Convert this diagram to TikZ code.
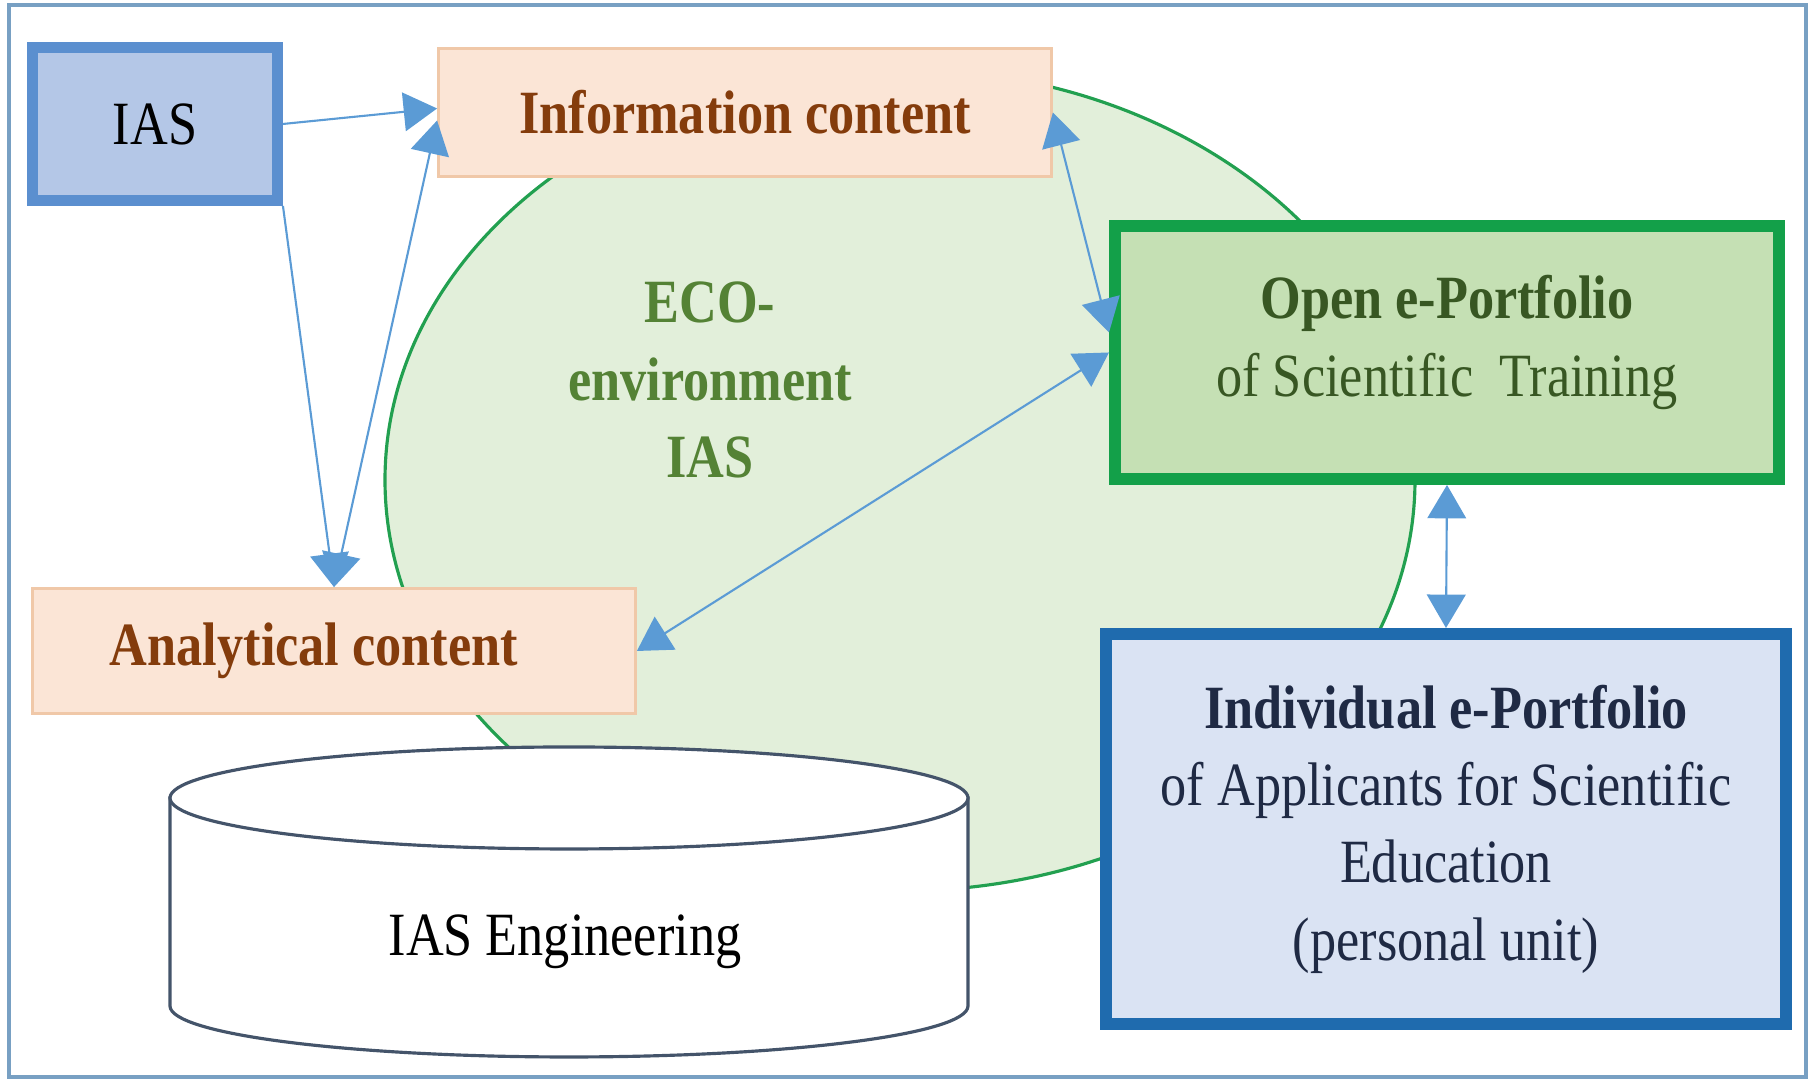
\documentclass[tikz,border=0pt]{standalone}
\usepackage{fontspec}
\setmainfont[FakeStretch=0.85]{Liberation Serif}
\usetikzlibrary{arrows.meta}

\definecolor{framec}{RGB}{120,160,195}
\definecolor{iasfill}{HTML}{B4C7E7}
\definecolor{iasline}{HTML}{5B8FCF}
\definecolor{contfill}{HTML}{FBE5D6}
\definecolor{contline}{HTML}{F0C8A8}
\definecolor{contc}{HTML}{843C0C}
\definecolor{ecofill}{HTML}{E2EFDA}
\definecolor{ecoline}{HTML}{22A050}
\definecolor{ecoc}{HTML}{548235}
\definecolor{openfill}{HTML}{C5E0B4}
\definecolor{openline}{HTML}{13A049}
\definecolor{openc}{HTML}{385723}
\definecolor{indfill}{HTML}{DAE3F3}
\definecolor{indline}{HTML}{1F6BAE}
\definecolor{indc}{HTML}{1F2A44}
\definecolor{cylline}{HTML}{44546A}
\definecolor{arrowc}{HTML}{5B9BD5}

\begin{document}
\begin{tikzpicture}[
  txt/.style={font=\fontsize{17.5}{22}\selectfont, align=center, inner sep=0pt},
  box/.style={txt, rectangle, draw},
  iasbox/.style={box, draw=iasline, fill=iasfill, line width=3.1pt, minimum width=2.45cm, minimum height=1.53cm},
  contbox/.style={box, draw=contline, fill=contfill, line width=0.8pt, text=contc, font=\fontsize{17.5}{22}\selectfont\bfseries},
  openbox/.style={box, draw=openline, fill=openfill, line width=3.4pt, text=openc, minimum width=6.64cm, minimum height=2.53cm},
  indbox/.style={box, draw=indline, fill=indfill, line width=3.4pt, text=indc, minimum width=6.80cm, minimum height=3.90cm},
  arr/.style={draw=arrowc, line width=0.6pt, -{Triangle[length=9.5pt,width=11pt]}},
  darr/.style={arr, {Triangle[length=9.5pt,width=11pt]}-{Triangle[length=9.5pt,width=11pt]}}
]
\useasboundingbox (0,0) rectangle (18.15,10.81);

% --- ECO-environment ---
\filldraw[fill=ecofill, draw=ecoline, line width=0.9pt] (9.00,6.01) ellipse [x radius=5.15cm, y radius=4.11cm];
\node[txt, text=ecoc, font=\fontsize{17.5}{22}\selectfont\bfseries] (eco) at (7.10,7.01) {ECO-\\environment\\IAS};

% --- IAS Engineering store ---
\filldraw[fill=white, draw=cylline, line width=0.9pt] (1.70,2.83) -- (1.70,0.75)
  arc[start angle=180, end angle=360, x radius=3.99cm, y radius=0.51cm] -- (9.68,2.83) -- cycle;
\filldraw[fill=white, draw=cylline, line width=0.9pt] (5.69,2.83) ellipse [x radius=3.99cm, y radius=0.51cm];
\node[txt] (eng) at (5.65,1.39) {IAS Engineering};

% --- Boxes ---
\node[iasbox] (ias) at (1.55,9.57) {IAS};
\node[contbox, minimum width=6.13cm, minimum height=1.28cm] (info) at (7.45,9.685) {Information content};
\node[contbox, minimum width=6.03cm, minimum height=1.25cm] (anal) at (3.34,4.30) {Analytical content\hspace*{0.4cm}};
\node[openbox] (open) at (14.47,7.285) {\textbf{Open e-Portfolio}\\of Scientific~ Training\rule[-0.33cm]{0pt}{0pt}};
\node[indbox] (indiv) at (14.46,2.52) {\textbf{Individual e-Portfolio}\\of Applicants for Scientific\\Education\\(personal unit)};

% --- Connectors ---
\draw[arr] (ias.east) -- ([yshift=0.04cm]info.west);
\draw[arr] (ias.south east) -- (anal.north);
\draw[darr] (anal.north) -- ([yshift=-0.08cm]info.west);
\draw[darr] (info.east) -- ([yshift=0.2cm]open.west);
\draw[darr] (anal.east) -- (open.west);
\draw[darr] (open.south) -- (indiv.north);

% --- Frame ---
\draw[framec, line width=1pt] (0.09,0.04) rectangle (18.06,10.76);

\end{tikzpicture}
\end{document}
